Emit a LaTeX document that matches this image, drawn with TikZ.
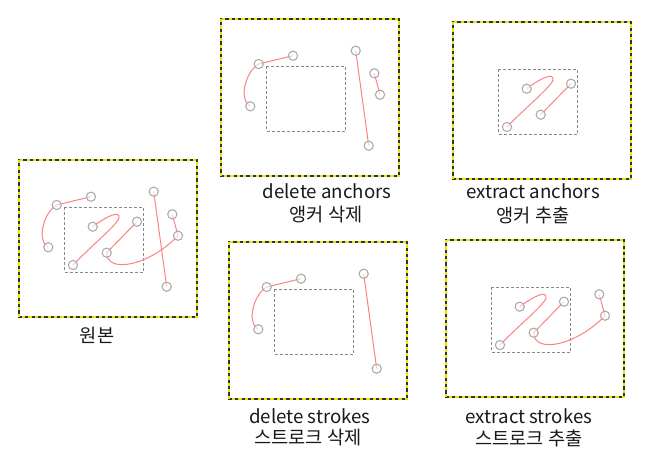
\documentclass[tikz,border=0pt]{standalone}
\usepackage{fontspec}
\setmainfont{Noto Sans CJK KR}
\definecolor{stkred}{HTML}{FF8080}
\definecolor{ancgray}{HTML}{AAAAAA}
\definecolor{selgray}{HTML}{888888}
\definecolor{frblack}{HTML}{333333}
\definecolor{fryellow}{HTML}{E6E600}
\tikzset{
  stk/.style={draw=stkred, line width=0.75pt},
  anc/.style={circle, draw=ancgray, fill=white, fill opacity=0.6, draw opacity=1, line width=0.8pt, minimum size=6.9pt, inner sep=0pt},
  selbox/.style={draw=selgray, line width=0.7pt, dash pattern=on 2.25pt off 1.5pt},
  frback/.style={draw=frblack, line width=1.6pt},
  frdash/.style={draw=fryellow, line width=0.8pt, dash pattern=on 2.4pt off 2.4pt},
  lbl/.style={font=\fontsize{14}{16}\selectfont, inner sep=0pt, text=black!90}
}
\newcommand\mkanchors{%
  \coordinate (A) at (37.7,45);
  \coordinate (B) at (72,36.7);
  \coordinate (C) at (29.3,87.3);
  \coordinate (D) at (73.7,66.7);
  \coordinate (E) at (54,105);
  \coordinate (F) at (118,61.7);
  \coordinate (G) at (87.7,92.7);
  \coordinate (H) at (134.7,31.7);
  \coordinate (I) at (147.7,126.7);
  \coordinate (J) at (153.3,54.3);
  \coordinate (K) at (159,75.7);
}
\newcommand\mkframe{%
  \draw[frback] (0,0) rectangle (178,157);
  \draw[frdash] (0,0) rectangle (178,157);
  \draw[selbox] (45.3,47.3) rectangle (124.3,112);
}
\newcommand\strokeAC{\draw[stk] (B) -- (A) .. controls (25,52) and (17,80) .. (C);}
\newcommand\strokeDE{\draw[stk] (D) .. controls (88,56) and (101,50) .. (100,58) .. controls (99,64) and (70,88) .. (E);}
\newcommand\strokeFG{\draw[stk] (F) -- (G);}
\newcommand\strokeGK{\draw[stk] (G) .. controls (88,114) and (130,106) .. (K);}
\newcommand\strokeHI{\draw[stk] (H) -- (I);}
\newcommand\strokeJK{\draw[stk] (J) -- (K);}
\newcommand\anc[1]{\node[anc] (c#1) at (#1) {};}
\begin{document}
\begin{tikzpicture}[x=0.75pt, y=-0.75pt]
\useasboundingbox (0,0) rectangle (665,464);
% original
\begin{scope}[shift={(19,160)}, name prefix=o-]
  \mkanchors \mkframe
  \strokeAC \strokeDE \strokeFG \strokeGK \strokeHI \strokeJK
  \anc{A}\anc{B}\anc{C}\anc{D}\anc{E}\anc{F}\anc{G}\anc{H}\anc{I}\anc{J}\anc{K}
\end{scope}
% delete anchors
\begin{scope}[shift={(221,19)}, name prefix=da-]
  \mkanchors \mkframe
  \strokeAC \strokeHI \strokeJK
  \anc{A}\anc{B}\anc{C}\anc{H}\anc{I}\anc{J}\anc{K}
\end{scope}
% extract anchors
\begin{scope}[shift={(453,22)}, name prefix=ea-]
  \mkanchors \mkframe
  \strokeDE \strokeFG
  \anc{D}\anc{E}\anc{F}\anc{G}
\end{scope}
% delete strokes
\begin{scope}[shift={(229,242)}, name prefix=ds-]
  \mkanchors \mkframe
  \strokeAC \strokeHI
  \anc{A}\anc{B}\anc{C}\anc{H}\anc{I}
\end{scope}
% extract strokes
\begin{scope}[shift={(446,240)}, name prefix=es-]
  \mkanchors \mkframe
  \strokeDE \strokeFG \strokeGK \strokeJK
  \anc{D}\anc{E}\anc{F}\anc{G}\anc{J}\anc{K}
\end{scope}
% labels
\node[lbl] (l0) at (97,335) {원본};
\node[lbl] (l1a) at (327,191) {delete anchors};
\node[lbl] (l1b) at (326,215) {앵커 삭제};
\node[lbl] (l2a) at (533,191) {extract anchors};
\node[lbl] (l2b) at (533,215) {앵커 추출};
\node[lbl] (l3a) at (310,416) {delete strokes};
\node[lbl] (l3b) at (308,438) {스트로크 삭제};
\node[lbl] (l4a) at (529,416) {extract strokes};
\node[lbl] (l4b) at (529,438) {스트로크 추출};
\end{tikzpicture}
\end{document}
